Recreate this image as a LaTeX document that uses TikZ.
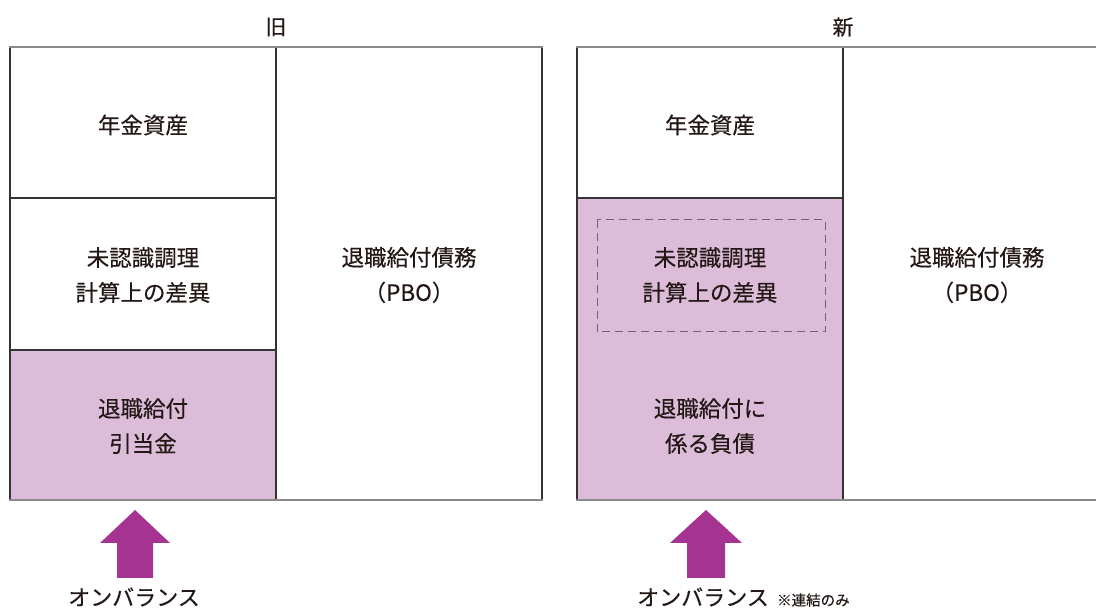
\documentclass[tikz,border=0pt]{standalone}
\usepackage{fontspec}
\setmainfont{Noto Sans CJK JP}[FakeBold=0.35]
\definecolor{pinkfill}{HTML}{DDBCDA}
\definecolor{arrowpurple}{HTML}{A53391}
\definecolor{outerline}{HTML}{8A8A8A}
\definecolor{innerline}{HTML}{333333}
\definecolor{dashline}{HTML}{6E6470}
\definecolor{txt}{HTML}{231815}
\tikzset{
  lbl/.style={font=\fontsize{22.5}{35}\selectfont, align=center, text=txt, inner sep=0pt},
  onlbl/.style={font=\fontsize{22}{26}\selectfont, text=txt, inner sep=0pt},
  ttl/.style={font=\fontsize{21}{25}\selectfont, text=txt, inner sep=0pt},
  small/.style={font=\fontsize{14.5}{16}\selectfont, text=txt, inner sep=0pt, anchor=base west},
  hline/.style={draw=outerline, line width=2pt},
  vline/.style={draw=innerline, line width=1.2pt},
  bigarrow/.style={fill=arrowpurple, draw=none},
}
\begin{document}
\begin{tikzpicture}[x=1pt,y=-1pt]
\useasboundingbox (0,0) rectangle (1096,609);
% ---- old ----
\fill[pinkfill] (10,350) rectangle (276,500);
\draw[vline] (10,47) -- (10,500);
\draw[vline] (276,47) -- (276,500);
\draw[vline] (542,47) -- (542,500);
\draw[vline] (10,198) -- (276,198);
\draw[vline] (10,350) -- (276,350);
\draw[hline] (9,47) -- (543,47);
\draw[hline] (9,500) -- (543,500);
\node[ttl] (oldt) at (276,27) {旧};
\node[lbl] (oldasset) at (143,125) {年金資産};
\node[lbl] (olddiff) at (143,275) {未認識調理\\計算上の差異};
\node[lbl] (oldpbo) at (409,275) {退職給付債務\\（PBO）};
\node[lbl] (oldres) at (143,426) {退職給付\\引当金};
\fill[bigarrow] (135,510) -- (170,543) -- (153,543) -- (153,578) -- (117,578) -- (117,543) -- (100,543) -- cycle;
\node[onlbl] (oldon) at (134,597) {オンバランス};
% ---- new ----
\fill[pinkfill] (577,198) rectangle (843,500);
\draw[vline] (577,47) -- (577,500);
\draw[vline] (843,47) -- (843,500);
\draw[vline] (577,198) -- (843,198);
\draw[hline] (576,47) -- (1097,47);
\draw[hline] (576,500) -- (1097,500);
\draw[draw=dashline, line width=1pt, dash pattern=on 8pt off 5pt] (597,220) rectangle (825,332);
\node[ttl] (newt) at (843,27) {新};
\node[lbl] (newasset) at (710,125) {年金資産};
\node[lbl] (newdiff) at (710,275) {未認識調理\\計算上の差異};
\node[lbl] (newpbo) at (977,275) {退職給付債務\\（PBO）};
\node[lbl] (newres) at (710,426) {退職給付に\\係る負債};
\fill[bigarrow] (706,510) -- (742,543) -- (725,543) -- (725,578) -- (687,578) -- (687,543) -- (670,543) -- cycle;
\node[onlbl] (newon) at (703,597) {オンバランス};
\node[small] (note) at ([xshift=8pt]newon.base east) {※連結のみ};
\end{tikzpicture}
\end{document}
